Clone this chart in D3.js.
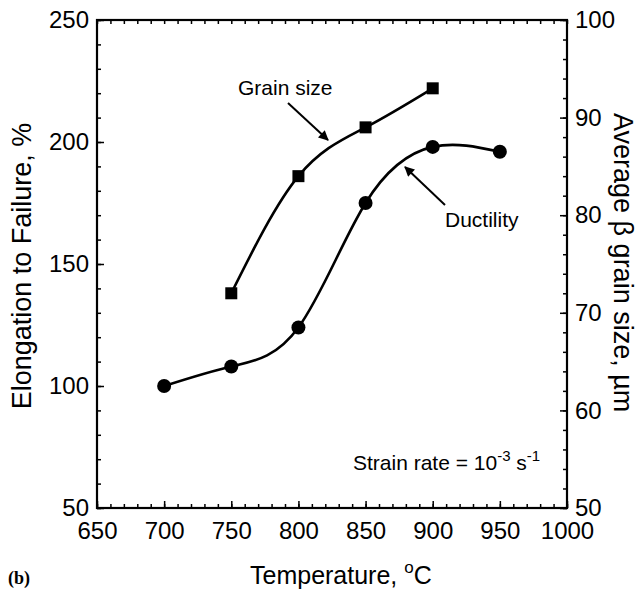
<!DOCTYPE html>
<html>
<head>
<meta charset="utf-8">
<script src="https://cdn.jsdelivr.net/npm/d3@7"></script>
<style>
  body { margin: 0; background: #fff; }
  text { font-family: "Liberation Sans", Arial, sans-serif; fill: #000; }
</style>
</head>
<body>
<svg id="chart" width="639" height="592"></svg>
<script>
// data
var temps = [700, 750, 800, 850, 900, 950];
var ductility = [100, 108, 124, 175, 198, 196];
var grainTemps = [750, 800, 850, 900];
var grainSize = [72, 84, 89, 93];

var xMajor = [650, 700, 750, 800, 850, 900, 950, 1000];
var yLeftMajor = [50, 100, 150, 200, 250];
var yRightMajor = [50, 60, 70, 80, 90, 100];

var svg = d3.select('#chart'),
    margin = {top: 20, right: 72, bottom: 84, left: 97},
    width = +svg.attr("width") - margin.left - margin.right,
    height = +svg.attr("height") - margin.top - margin.bottom,
    g = svg.append("g").attr("transform", "translate(" + margin.left + "," + margin.top + ")");

var x = d3.scaleLinear().domain([650, 1000]).range([0, width]);
var yL = d3.scaleLinear().domain([50, 250]).range([height, 0]);
var yR = d3.scaleLinear().domain([50, 100]).range([height, 0]);

function minors(lo, hi, step) {
    return d3.range(lo, hi + step / 2, step);
}

// arrow head
svg.append("defs").append("marker")
    .attr("id", "arrow")
    .attr("viewBox", "0 0 10 10")
    .attr("refX", 9).attr("refY", 5)
    .attr("markerWidth", 5.5).attr("markerHeight", 5)
    .attr("markerUnits", "strokeWidth")
    .attr("orient", "auto")
  .append("path")
    .attr("d", "M0,0 L10,5 L0,10 z")
    .attr("fill", "#000");

// axes: minor ticks first, then majors with labels
function styleAxis(sel) {
    sel.select(".domain").remove();
    sel.selectAll("line").attr("stroke", "#000").attr("stroke-width", 1.5);
    sel.selectAll("text").attr("font-size", "24px");
}

g.append("g").attr("transform", "translate(0," + height + ")")
    .call(d3.axisBottom(x).tickValues(minors(650, 1000, 10)).tickSize(-4).tickFormat(""))
    .call(styleAxis);
g.append("g").attr("transform", "translate(0," + height + ")")
    .call(d3.axisBottom(x).tickValues(xMajor).tickSize(-7).tickPadding(14).tickFormat(d3.format("d")))
    .call(styleAxis);

g.append("g")
    .call(d3.axisTop(x).tickValues(minors(650, 1000, 10)).tickSize(-4).tickFormat(""))
    .call(styleAxis);

g.append("g")
    .call(d3.axisLeft(yL).tickValues(minors(50, 250, 10)).tickSize(-4).tickFormat(""))
    .call(styleAxis);
g.append("g")
    .call(d3.axisLeft(yL).tickValues(yLeftMajor).tickSize(-7).tickPadding(8).tickFormat(d3.format("d")))
    .call(styleAxis);

g.append("g").attr("transform", "translate(" + width + ",0)")
    .call(d3.axisRight(yR).tickValues(minors(50, 100, 2)).tickSize(-4).tickFormat(""))
    .call(styleAxis);
g.append("g").attr("transform", "translate(" + width + ",0)")
    .call(d3.axisRight(yR).tickValues(yRightMajor).tickSize(-7).tickPadding(8).tickFormat(d3.format("d")))
    .call(styleAxis);

// frame
g.append("rect")
    .attr("width", width).attr("height", height)
    .attr("fill", "none").attr("stroke", "#000").attr("stroke-width", 2.2);

// ductility line (left axis)
var ductData = temps.map(function(t, i) { return {t: t, v: ductility[i]}; });
var ductLine = d3.line()
    .x(function(d) { return x(d.t); })
    .y(function(d) { return yL(d.v); })
    .curve(d3.curveNatural);

g.append("path")
    .datum(ductData)
    .attr("d", ductLine)
    .attr("fill", "none").attr("stroke", "#000").attr("stroke-width", 2.6);

g.selectAll(".dot")
    .data(ductData)
  .enter().append("circle")
    .attr("class", "dot")
    .attr("cx", function(d) { return x(d.t); })
    .attr("cy", function(d) { return yL(d.v); })
    .attr("r", 7)
    .attr("fill", "#000");

// grain size line (right axis)
var grainData = grainTemps.map(function(t, i) { return {t: t, v: grainSize[i]}; });
var grainLine = d3.line()
    .x(function(d) { return x(d.t); })
    .y(function(d) { return yR(d.v); })
    .curve(d3.curveNatural);

g.append("path")
    .datum(grainData)
    .attr("d", grainLine)
    .attr("fill", "none").attr("stroke", "#000").attr("stroke-width", 2.6);

var sq = 12;
g.selectAll(".sq")
    .data(grainData)
  .enter().append("rect")
    .attr("class", "sq")
    .attr("x", function(d) { return x(d.t) - sq / 2; })
    .attr("y", function(d) { return yR(d.v) - sq / 2; })
    .attr("width", sq).attr("height", sq)
    .attr("fill", "#000");

// annotations
svg.append("text").attr("x", 238).attr("y", 95)
    .attr("font-size", "21px").text("Grain size");
svg.append("line")
    .attr("x1", 288).attr("y1", 103).attr("x2", 328).attr("y2", 140)
    .attr("stroke", "#000").attr("stroke-width", 2)
    .attr("marker-end", "url(#arrow)");

svg.append("text").attr("x", 445).attr("y", 227)
    .attr("font-size", "21px").text("Ductility");
svg.append("line")
    .attr("x1", 445).attr("y1", 205).attr("x2", 405).attr("y2", 167)
    .attr("stroke", "#000").attr("stroke-width", 2)
    .attr("marker-end", "url(#arrow)");

var sr = svg.append("text").attr("x", 353).attr("y", 470).attr("font-size", "21px");
sr.append("tspan").text("Strain rate = 10");
sr.append("tspan").attr("dy", -9).attr("font-size", "15px").text("-3");
sr.append("tspan").attr("dy", 9).text(" s");
sr.append("tspan").attr("dy", -9).attr("font-size", "15px").text("-1");

// axis titles
svg.append("text")
    .attr("transform", "translate(31,266) rotate(-90)")
    .attr("text-anchor", "middle").attr("font-size", "27px")
    .text("Elongation to Failure, %");

svg.append("text")
    .attr("transform", "translate(614,113) rotate(90)")
    .attr("font-size", "27px")
    .text("Average \u03b2 grain size, \u00b5m");

var xt = svg.append("text").attr("x", 250).attr("y", 584)
    .attr("font-size", "25px");
xt.append("tspan").text("Temperature, ");
xt.append("tspan").attr("dy", -11).attr("font-size", "17px").text("o");
xt.append("tspan").attr("dy", 11).text("C");

svg.append("text").attr("x", 8).attr("y", 584)
    .style("font-family", "'Liberation Serif', 'Times New Roman', serif")
    .attr("font-weight", "bold").attr("font-size", "18px")
    .text("(b)");
</script>
</body>
</html>
